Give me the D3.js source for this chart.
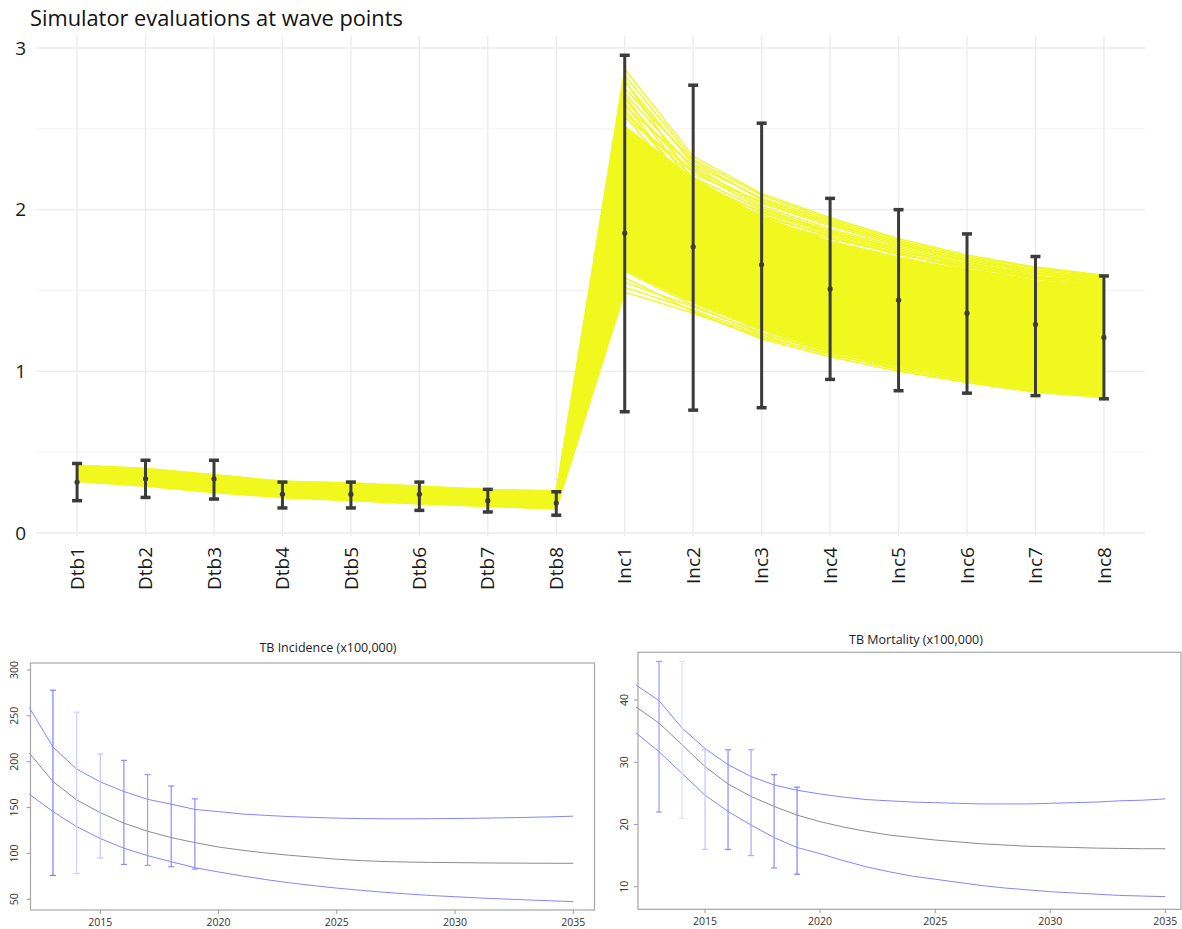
<!DOCTYPE html>
<html><head><meta charset="utf-8">
<script src="https://cdn.jsdelivr.net/npm/d3@7"></script>
<style>body{margin:0;background:#fff} svg{display:block}</style>
</head><body>
<svg id="c" width="1182" height="929"></svg>
<script>
// ---------- top chart data ----------
const categories = ["Dtb1","Dtb2","Dtb3","Dtb4","Dtb5","Dtb6","Dtb7","Dtb8","Inc1","Inc2","Inc3","Inc4","Inc5","Inc6","Inc7","Inc8"];
const yTicks = [0,1,2,3];
const yMinorTicks = [0.5,1.5,2.5];
// outer envelope of simulator runs
const envLow  = [0.32,0.29,0.25,0.22,0.20,0.18,0.165,0.15, 1.49,1.35,1.20,1.10,1.00,0.93,0.875,0.84];
const envHigh = [0.42,0.40,0.36,0.32,0.31,0.29,0.27,0.26, 2.87,2.33,2.10,1.95,1.82,1.72,1.645,1.595];
// dense core of runs (Inc1..Inc8)
const denseLow  = [1.62,1.42,1.25,1.12,1.03,0.95,0.885,0.845];
const denseHigh = [2.52,2.20,1.96,1.81,1.71,1.63,1.565,1.53];
// individual visible runs (Dtb1..Dtb8, Inc1..Inc8)
const runs = [
 [0.42,0.40,0.36,0.32,0.31,0.29,0.27,0.26, 2.87,2.33,2.10,1.95,1.82,1.72,1.645,1.595],
 [0.41,0.39,0.35,0.31,0.30,0.28,0.26,0.25, 2.83,2.31,2.09,1.94,1.81,1.71,1.64,1.59],
 [0.40,0.38,0.34,0.30,0.29,0.27,0.25,0.24, 2.79,2.28,2.07,1.93,1.80,1.70,1.63,1.585],
 [0.38,0.36,0.32,0.29,0.27,0.26,0.24,0.23, 2.75,2.30,2.06,1.92,1.79,1.70,1.62,1.58],
 [0.36,0.34,0.31,0.28,0.26,0.25,0.23,0.22, 2.72,2.25,2.04,1.90,1.78,1.69,1.62,1.575],
 [0.42,0.40,0.36,0.32,0.31,0.29,0.27,0.26, 2.68,2.22,2.05,1.91,1.79,1.68,1.61,1.57],
 [0.41,0.39,0.35,0.31,0.30,0.28,0.26,0.25, 2.64,2.27,2.02,1.88,1.77,1.68,1.61,1.565],
 [0.40,0.38,0.34,0.30,0.29,0.27,0.25,0.24, 2.60,2.20,2.00,1.87,1.76,1.67,1.60,1.56],
 [0.38,0.36,0.32,0.29,0.27,0.26,0.24,0.23, 2.57,2.24,2.01,1.86,1.75,1.66,1.60,1.555],
 [0.36,0.34,0.31,0.28,0.26,0.25,0.23,0.22, 2.80,2.18,1.98,1.85,1.74,1.66,1.59,1.55],
 [0.40,0.38,0.34,0.30,0.29,0.27,0.25,0.24, 2.70,2.15,1.99,1.86,1.75,1.65,1.585,1.545],
 [0.38,0.36,0.32,0.29,0.27,0.26,0.24,0.23, 2.62,2.12,1.96,1.84,1.73,1.64,1.58,1.54],
 [0.41,0.39,0.35,0.31,0.30,0.28,0.26,0.25, 2.66,2.10,1.97,1.83,1.72,1.65,1.575,1.535],
 [0.36,0.34,0.31,0.28,0.26,0.25,0.23,0.22, 2.58,2.08,1.94,1.82,1.73,1.63,1.57,1.53],
 [0.32,0.29,0.25,0.22,0.20,0.18,0.165,0.15, 1.49,1.36,1.21,1.11,1.01,0.93,0.875,0.84],
 [0.33,0.30,0.26,0.23,0.21,0.19,0.17,0.16, 1.52,1.38,1.22,1.10,1.02,0.94,0.88,0.845],
 [0.34,0.31,0.27,0.24,0.22,0.20,0.18,0.17, 1.55,1.40,1.24,1.12,1.03,0.95,0.885,0.85],
 [0.32,0.29,0.25,0.22,0.20,0.18,0.165,0.15, 1.58,1.37,1.20,1.09,1.00,0.93,0.87,0.84],
 [0.33,0.30,0.26,0.23,0.21,0.19,0.17,0.16, 1.62,1.41,1.23,1.12,1.02,0.94,0.88,0.845],
 [0.34,0.31,0.27,0.24,0.22,0.20,0.18,0.17, 1.66,1.43,1.26,1.14,1.04,0.95,0.89,0.85]
];
// observation error bars
const errLow  = [0.20,0.22,0.21,0.155,0.155,0.14,0.13,0.11, 0.75,0.76,0.775,0.95,0.88,0.865,0.85,0.83];
const errMid  = [0.315,0.335,0.335,0.24,0.24,0.24,0.20,0.185, 1.855,1.77,1.66,1.51,1.44,1.36,1.29,1.21];
const errHigh = [0.43,0.45,0.45,0.315,0.315,0.315,0.27,0.255, 2.955,2.77,2.535,2.07,2.00,1.85,1.71,1.59];

// ---------- bottom panels data ----------
const years = d3.range(2012, 2036);
const incUpper = [259,216,192,178,167.5,159,153.7,148,145.6,143,141.5,140.2,139.3,138.5,138,137.8,137.8,137.9,138.1,138.4,138.8,139.3,139.9,140.6];
const incMid   = [209.4,178.4,158.4,144.5,133,124.2,117.3,111.8,107,103.5,100.5,98,95.9,93.7,92.2,91.2,90.6,90.2,90,89.7,89.5,89.4,89.3,89.3];
const incLower = [164.6,145.6,129.3,116.2,105.7,97.6,91,84.5,79.8,75.5,71.5,68,65,62.2,59.8,57.7,55.8,54.1,52.8,51.5,50.4,49.4,48.4,47.4];
const obsYears = [2013,2014,2015,2016,2017,2018,2019];
const incObsHigh = [278,254,208.5,201.5,186,173.5,159.5];
const incObsLow  = [76,78,95,88,87,85.5,83];
const incObsCol  = ["#7d7dff","#cfcfff","#c4c4ff","#8a8aff","#9a9aff","#8c8cff","#8c8cff"];
const incYTicks = [50,100,150,200,250,300];
const morUpper = [42.4,39.9,35.5,32.2,29.6,27.7,26.35,25.5,24.9,24.4,24.0,23.8,23.6,23.5,23.4,23.3,23.3,23.3,23.4,23.5,23.6,23.8,23.9,24.1];
const morMid   = [38.9,36.3,32.8,29.3,26.5,24.5,22.9,21.5,20.45,19.6,18.9,18.3,17.9,17.5,17.2,16.9,16.7,16.5,16.4,16.3,16.2,16.15,16.1,16.1];
const morLower = [34.7,31.7,28.2,24.7,22.1,19.9,17.9,16.3,15.3,14.2,13.2,12.4,11.7,11.2,10.7,10.2,9.8,9.5,9.2,9.0,8.8,8.6,8.5,8.4];
const morObsHigh = [46.2,46.2,32,32,32,28,26];
const morObsLow  = [22,21,16,16,15,13,12];
const morObsCol  = ["#9a9aff","#dedeff","#c4c4ff","#8a8aff","#a8a8ff","#8c8cff","#8080ff"];
const morYTicks = [10,20,30,40];
const xYearTicks = [2015,2020,2025,2030,2035];

const svg = d3.select("#c");
const FONT = "'Open Sans', 'Noto Sans', sans-serif";

// ================= TOP CHART =================
const x = d3.scalePoint().domain(categories).range([36,1145]).padding(0.6);
const y = d3.scaleLinear().domain([0,3]).range([533,48]);
const topG = svg.append("g");

topG.append("text").attr("x",30).attr("y",26).attr("font-family",FONT).attr("font-size",21.8)
  .attr("fill","#111").text("Simulator evaluations at wave points");

// grid
topG.selectAll(".ymin").data(yMinorTicks).join("line")
  .attr("x1",36).attr("x2",1145).attr("y1",d=>y(d)).attr("y2",d=>y(d))
  .attr("stroke","#f4f4f4").attr("stroke-width",1);
topG.selectAll(".ymaj").data(yTicks).join("line")
  .attr("x1",36).attr("x2",1145).attr("y1",d=>y(d)).attr("y2",d=>y(d))
  .attr("stroke","#ebebeb").attr("stroke-width",1.3);
topG.selectAll(".xmaj").data(categories).join("line")
  .attr("x1",d=>x(d)).attr("x2",d=>x(d)).attr("y1",36).attr("y2",536)
  .attr("stroke","#ebebeb").attr("stroke-width",1.3);

// y labels
topG.selectAll(".ylab").data(yTicks).join("text")
  .attr("x",26).attr("y",d=>y(d)).attr("dy","0.35em").attr("text-anchor","end")
  .attr("font-family",FONT).attr("font-size",19).attr("fill","#1a1a1a").text(d=>d);
// x labels
topG.selectAll(".xlab").data(categories).join("text")
  .attr("transform",d=>`translate(${x(d)},547) rotate(-90)`).attr("dy","0.35em")
  .attr("text-anchor","end").attr("font-family",FONT).attr("font-size",19).attr("fill","#1a1a1a").text(d=>d);

const YEL = "#f0f81e";
const idx = d3.range(categories.length);
const areaEnv = d3.area().x(i=>x(categories[i])).y0(i=>y(envLow[i])).y1(i=>y(envHigh[i]));
topG.append("path").datum(idx.slice(0,9)).attr("d",areaEnv).attr("fill",YEL);
const incCats = categories.slice(8);
const areaDense = d3.area().x((d,i)=>x(incCats[i])).y0((d,i)=>y(denseLow[i])).y1((d,i)=>y(denseHigh[i]));
topG.append("path").datum(incCats).attr("d",areaDense).attr("fill",YEL);
const runLine = d3.line().x((d,i)=>x(categories[i])).y(d=>y(d));
topG.selectAll(".run").data(runs).join("path").attr("d",runLine)
  .attr("fill","none").attr("stroke",YEL).attr("stroke-width",1.4);

// error bars
const eb = topG.selectAll(".eb").data(idx).join("g");
eb.append("line").attr("x1",i=>x(categories[i])).attr("x2",i=>x(categories[i]))
  .attr("y1",i=>y(errLow[i])).attr("y2",i=>y(errHigh[i])).attr("stroke","#3b3b3b").attr("stroke-width",3);
eb.append("line").attr("x1",i=>x(categories[i])-5).attr("x2",i=>x(categories[i])+5)
  .attr("y1",i=>y(errLow[i])).attr("y2",i=>y(errLow[i])).attr("stroke","#3b3b3b").attr("stroke-width",3.5);
eb.append("line").attr("x1",i=>x(categories[i])-5).attr("x2",i=>x(categories[i])+5)
  .attr("y1",i=>y(errHigh[i])).attr("y2",i=>y(errHigh[i])).attr("stroke","#3b3b3b").attr("stroke-width",3.5);
eb.append("circle").attr("cx",i=>x(categories[i])).attr("cy",i=>y(errMid[i])).attr("r",2.6).attr("fill","#3b3b3b");

// ================= BOTTOM PANELS =================
function panel(opts){
  const g = svg.append("g");
  const px = d3.scaleLinear().domain([2012,2035]).range(opts.xr);
  const py = d3.scaleLinear().domain(opts.yd).range(opts.yr);
  g.append("rect").attr("x",opts.fx0).attr("y",opts.fy0).attr("width",opts.fx1-opts.fx0).attr("height",opts.fy1-opts.fy0)
    .attr("fill","none").attr("stroke","#a6a6a6").attr("stroke-width",1.2);
  g.append("text").attr("x",opts.tx).attr("y",opts.ty).attr("text-anchor","middle")
    .attr("font-family",FONT).attr("font-size",12.5).attr("fill","#222").text(opts.title);
  g.selectAll(".yt").data(opts.yticks).join("line").attr("x1",opts.fx0-4).attr("x2",opts.fx0)
    .attr("y1",d=>py(d)).attr("y2",d=>py(d)).attr("stroke","#999");
  g.selectAll(".yl").data(opts.yticks).join("text")
    .attr("transform",d=>`translate(${opts.ylx},${py(d)}) rotate(-90)`).attr("text-anchor","middle")
    .attr("font-family",FONT).attr("font-size",10.5).attr("fill","#333").text(d=>d);
  g.selectAll(".xt").data(xYearTicks).join("line").attr("x1",d=>px(d)).attr("x2",d=>px(d))
    .attr("y1",opts.fy1).attr("y2",opts.fy1+4).attr("stroke","#999");
  g.selectAll(".xl").data(xYearTicks).join("text").attr("x",d=>px(d)).attr("y",opts.fy1+16)
    .attr("text-anchor","middle").attr("font-family",FONT).attr("font-size",10.5).attr("fill","#333").text(d=>d);
  const ln = d3.line().x((d,i)=>px(years[i])).y(d=>py(d));
  g.append("path").datum(opts.upper).attr("d",ln).attr("fill","none").attr("stroke","#8585ff").attr("stroke-width",1);
  g.append("path").datum(opts.lower).attr("d",ln).attr("fill","none").attr("stroke","#8585ff").attr("stroke-width",1);
  g.append("path").datum(opts.mid).attr("d",ln).attr("fill","none").attr("stroke","#8c8c8c").attr("stroke-width",1);
  const ob = g.selectAll(".ob").data(obsYears).join("g").attr("stroke",(d,i)=>opts.cols[i]).attr("stroke-width",1.2);
  ob.append("line").attr("x1",d=>px(d)).attr("x2",d=>px(d)).attr("y1",(d,i)=>py(opts.hi[i])).attr("y2",(d,i)=>py(opts.lo[i]));
  ob.append("line").attr("x1",d=>px(d)-3).attr("x2",d=>px(d)+3).attr("y1",(d,i)=>py(opts.hi[i])).attr("y2",(d,i)=>py(opts.hi[i]));
  ob.append("line").attr("x1",d=>px(d)-3).attr("x2",d=>px(d)+3).attr("y1",(d,i)=>py(opts.lo[i])).attr("y2",(d,i)=>py(opts.lo[i]));
}

panel({xr:[29.3,573.3], yd:[50,300], yr:[899.3,670], fx0:30.5, fx1:594.5, fy0:663, fy1:910,
  tx:328, ty:652, title:"TB Incidence (x100,000)", yticks:incYTicks, ylx:18,
  upper:incUpper, mid:incMid, lower:incLower, hi:incObsHigh, lo:incObsLow, cols:incObsCol});
panel({xr:[636,1165.3], yd:[10,40], yr:[886.7,700], fx0:638, fx1:1181, fy0:652.3, fy1:909.3,
  tx:916, ty:644, title:"TB Mortality (x100,000)", yticks:morYTicks, ylx:628,
  upper:morUpper, mid:morMid, lower:morLower, hi:morObsHigh, lo:morObsLow, cols:morObsCol});
</script>
</body></html>
